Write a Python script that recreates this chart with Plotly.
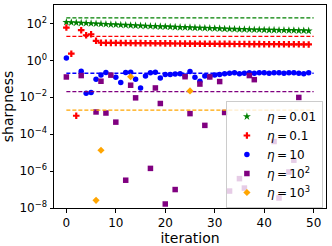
import plotly.graph_objects as go

iterations = list(range(50))
etas = [0.01, 0.1, 10, 100, 1000]
eta_labels = ["<i>η</i>\u2009=\u20090.01", "<i>η</i>\u2009=\u20090.1", "<i>η</i>\u2009=\u200910",
              "<i>η</i>\u2009=\u200910<sup>2</sup>", "<i>η</i>\u2009=\u200910<sup>3</sup>"]
colors = ["green", "red", "blue", "purple", "orange"]
symbols = ["star", "cross", "circle", "square", "diamond"]
sizes = [6, 5.5, 5.5, 5.5, 5.5]
ytick_vals = [1e-8, 1e-6, 1e-4, 1e-2, 1e0, 1e2]
ytick_text = ["10<sup>−8</sup>", "10<sup>−6</sup>", "10<sup>−4</sup>", "10<sup>−2</sup>",
              "10<sup>0</sup>", "10<sup>2</sup>"]
xtick_vals = [0, 10, 20, 30, 40, 50]

sharp_001 = [117, 113, 109, 106, 103, 100, 97, 94, 91, 88, 86, 83, 81, 79, 77, 75,
             73, 71, 70, 68, 67, 65, 64, 62, 61, 60, 58, 57, 56, 55, 54, 53, 51, 50,
             49, 48, 48, 47, 46, 46, 45, 44, 44, 43, 43, 42, 42, 41, 41, 40]
sharp_01 = [60, 2.3, 1e-3, 43, 23, 26, 11.5,
            9.0, 8.9, 8.9, 8.8, 8.8, 8.7, 8.7, 8.6, 8.6, 8.5, 8.5, 8.4, 8.4, 8.3, 8.3,
            8.2, 8.2, 8.1, 8.1, 8.0, 8.0, 7.9, 7.9, 7.9, 7.8, 7.8, 7.8, 7.7, 7.7, 7.7,
            7.6, 7.6, 7.6, 7.5, 7.5, 7.5, 7.5, 7.4, 7.4, 7.4, 7.4, 7.3, 7.3]
sharp_10 = [1.35, None, None, 0.26, 0.0166, 0.018, 0.095, 0.16, 0.22, None,
            0.12, 0.063, 0.22, 0.23, 0.095, 0.032, 0.14, 0.21, 0.23, 0.11,
            0.17, 0.17, 0.18, 0.19, 0.14, 0.25, 0.12, 0.074, 0.14, 0.135,
            0.16, 0.17, 0.19, 0.20, 0.21, 0.19, 0.20, 0.21, 0.20, 0.21,
            0.21, 0.20, 0.21, 0.21, 0.20, 0.21, 0.21, 0.20, 0.19, 0.21]
sharp_100 = {0: 0.126, 3: 0.15, 6: 0.0016, 7: 0.074, 8: 0.0014, 9: 0.158, 10: 4.5e-4,
             12: 3.2e-7, 13: 0.045, 14: 0.0093, 17: 1.4e-6, 18: 0.032, 19: 0.0046,
             20: 1.65e-8, 22: 1e-7, 24: 0.13, 25: 0.0013, 27: 0.052, 28: 3e-4,
             29: 0.126, 31: 0.071, 32: 0.0015, 33: 8.3e-8, 35: 3.9e-7, 36: 1.2e-7,
             37: 0.15, 38: 0.09, 42: 4e-5, 43: 3.5e-8, 45: 9e-7, 46: 3.9e-6, 47: 0.0098}
sharp_1000 = {6: 2.6e-8, 7: 1.35e-5, 13: 0.13, 25: 0.022}

series = [sharp_001, sharp_01, sharp_10,
          [sharp_100.get(i) for i in iterations],
          [sharp_1000.get(i) for i in iterations]]

fig = go.Figure()
for eta, lab, col, sym, sz, ys in zip(etas, eta_labels, colors, symbols, sizes, series):
    fig.add_trace(go.Scatter(x=iterations, y=ys, mode="markers", name=lab,
                             marker=dict(color=col, symbol=sym, size=sz, line=dict(width=0))))
    fig.add_trace(go.Scatter(x=[0, 50], y=[2 / eta, 2 / eta], mode="lines",
                             line=dict(color=col, width=1.3, dash="4px,2px"),
                             showlegend=False, hoverinfo="skip"))

font = dict(family="DejaVu Sans", size=12, color="black")
fig.update_layout(
    width=332, height=246,
    margin=dict(l=54, r=6, t=5, b=38, autoexpand=False),
    plot_bgcolor="white", paper_bgcolor="white",
    font=font,
    showlegend=True,
    legend=dict(x=0.632, y=0.527, xanchor="left", yanchor="top",
                bgcolor="rgba(255,255,255,0.8)", bordercolor="#cccccc", borderwidth=1,
                font=font, itemwidth=30),
)
fig.update_xaxes(range=[-2.5, 52.5], tickvals=xtick_vals, automargin=False,
                 showline=True, linecolor="black", linewidth=1, mirror=True,
                 ticks="outside", ticklen=3.5, tickcolor="black", showgrid=False,
                 zeroline=False, title=dict(text="iteration", standoff=0))
fig.update_yaxes(type="log", range=[-8, 3], tickvals=ytick_vals, ticktext=ytick_text,
                 automargin=False,
                 showline=True, linecolor="black", linewidth=1, mirror=True,
                 ticks="outside", ticklen=3.5, tickcolor="black", showgrid=False,
                 zeroline=False, title=dict(text="sharpness", standoff=3))
fig.write_html("out.html", config={"displayModeBar": False},
               post_script="document.body.style.margin='0';document.body.style.overflow='hidden';")
